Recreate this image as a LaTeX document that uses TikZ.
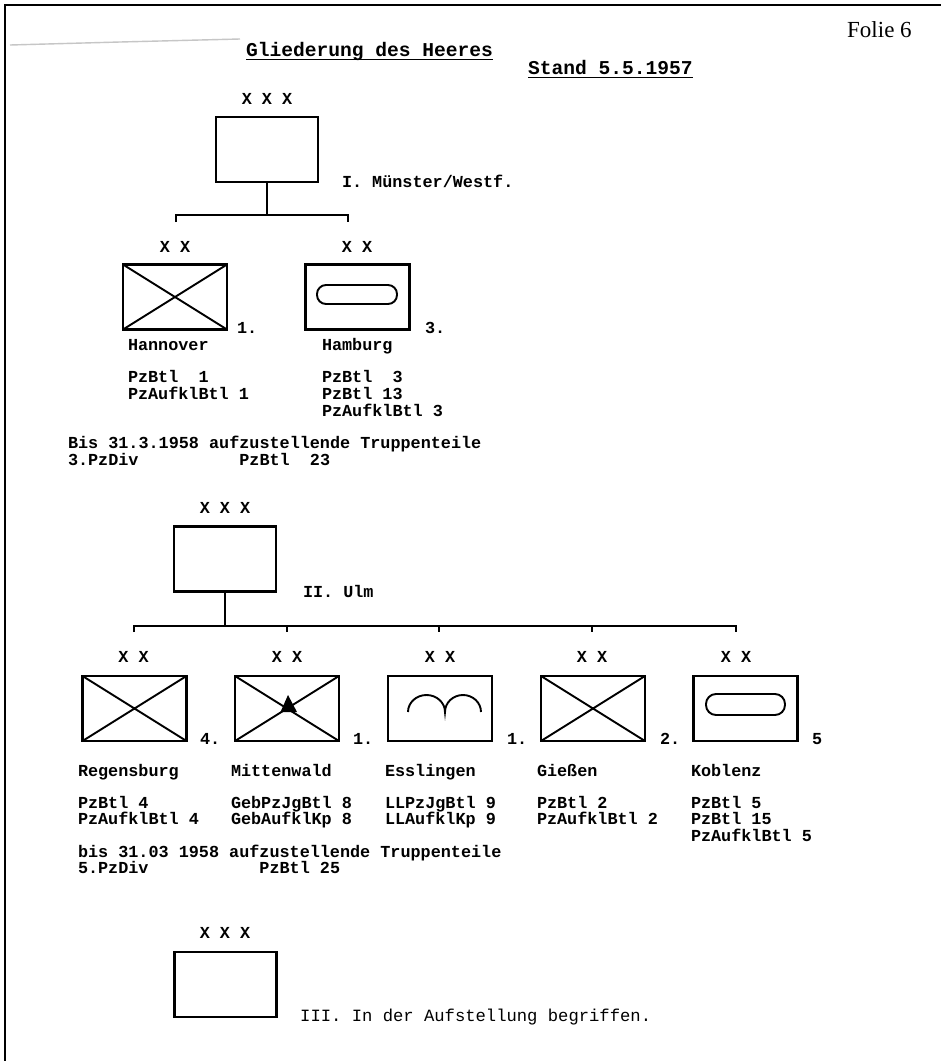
\documentclass[tikz,border=0pt]{standalone}
\usepackage{fontspec}
\setmainfont{Liberation Serif}
\newfontfamily\typew{Liberation Mono}
\begin{document}
\begin{tikzpicture}[x=1pt,y=-1pt,
  mono/.style={font=\typew\bfseries\fontsize{16.8}{17}\selectfont, inner sep=0pt, outer sep=0pt},
  lbl/.style={mono, anchor=base west},
  rank/.style={mono, anchor=base},
  headfont/.style={font=\typew\bfseries\fontsize{19.6}{20}\selectfont},
  unitbox/.style={draw, line width=2.2pt, minimum width=104pt, minimum height=65pt, inner sep=0pt, outer sep=0pt},
  corpsbox/.style={unitbox, minimum width=102pt},
  conn/.style={line width=2pt},
  sym/.style={line width=1.9pt},
  uline/.style={line width=1.5pt}]

\useasboundingbox (0,0) rectangle (941,1061);
\fill[white] (0,0) rectangle (941,1061);

% frame and scan trace
\draw[line width=1.5pt] (5,1061) -- (5,5) -- (941,5);
\draw[gray!45, line width=1.4pt] (10,45) -- (120,42) -- (240,39);

\node[anchor=base west, inner sep=0pt, font=\fontsize{23}{25}\selectfont] (folie) at (847,37) {Folie 6};

% titles
\node[lbl, headfont] (title) at (246,56) {Gliederung des Heeres};
\draw[uline] ([yshift=-3.5pt]title.base west) -- ([yshift=-3.5pt]title.base east);
\node[lbl, headfont] (stand) at (528,74) {Stand 5.5.1957};
\draw[uline] ([yshift=-3.5pt]stand.base west) -- ([yshift=-3.5pt]stand.base east);

% ---------------- Corps I
\node[rank] (xxx1) at (267,104) {X X X};
\node[corpsbox] (c1) at (267,149.5) {};
\node[lbl] (c1name) at (342,187) {I. Münster/Westf.};
\coordinate (b1L) at (176,215);
\coordinate (b1R) at (348,215);
\draw[conn] (c1.south) -- (c1.south |- b1L);
\draw[conn] ([yshift=-7pt]b1L) -- (b1L) -- (b1R) -- ([yshift=-7pt]b1R);

% 1. PzDiv Hannover
\node[rank] (xxd1) at (175,252) {X X};
\node[unitbox] (d1) at (175,297) {};
\draw[sym] (d1.north west) -- (d1.south east) (d1.north east) -- (d1.south west);
\node[lbl] (d1num) at (237,333) {1.};
\node[lbl] (d1city) at (128,350) {Hannover};
\node[lbl] (d1u1) at (128,382) {PzBtl\ \ 1};
\node[lbl] (d1u2) at (128,399) {PzAufklBtl 1};

% 3. PzDiv Hamburg
\node[rank] (xxd3) at (357,252) {X X};
\node[unitbox] (d3) at (357.5,297) {};
\draw[sym, rounded corners=9pt] (317,285) rectangle (397,304);
\node[lbl] (d3num) at (425,333) {3.};
\node[lbl] (d3city) at (322,350) {Hamburg};
\node[lbl] (d3u1) at (322,382) {PzBtl\ \ 3};
\node[lbl] (d3u2) at (322,399) {PzBtl 13};
\node[lbl] (d3u3) at (322,416) {PzAufklBtl 3};

\node[lbl] (todo1a) at (68,448) {Bis 31.3.1958 aufzustellende Truppenteile};
\node[lbl] (todo1b) at (68,465) {3.PzDiv\ \ \ \ \ \ \ \ \ \ PzBtl\ \ 23};

% ---------------- Corps II
\node[rank] (xxx2) at (225,513) {X X X};
\node[corpsbox] (c2) at (225,559) {};
\node[lbl] (c2name) at (303,597) {II. Ulm};
\coordinate (b2a) at (134,626);
\coordinate (b2b) at (287,626);
\coordinate (b2c) at (439,626);
\coordinate (b2d) at (592,626);
\coordinate (b2e) at (736,626);
\draw[conn] (c2.south) -- (c2.south |- b2a);
\draw[conn] ([yshift=-6pt]b2a) -- (b2a) -- (b2e) -- ([yshift=-6pt]b2e);
\draw[conn] (b2b) -- ([yshift=-6pt]b2b);
\draw[conn] (b2c) -- ([yshift=-6pt]b2c);
\draw[conn] (b2d) -- ([yshift=-6pt]b2d);

% Regensburg
\node[rank] (xxr) at (133.5,662) {X X};
\node[unitbox] (dr) at (134.5,708.5) {};
\draw[sym] (dr.north west) -- (dr.south east) (dr.north east) -- (dr.south west);
\node[lbl] (drnum) at (200,744) {4.};
\node[lbl] (drcity) at (78,776) {Regensburg};
\node[lbl] (dru1) at (78,808) {PzBtl 4};
\node[lbl] (dru2) at (78,824) {PzAufklBtl 4};

% Mittenwald
\node[rank] (xxm) at (287,662) {X X};
\node[unitbox] (dm) at (287,708.5) {};
\draw[sym] (dm.north west) -- (dm.south east) (dm.north east) -- (dm.south west);
\fill (288,695) -- (280.5,712) -- (297,712) -- cycle;
\node[lbl] (dmnum) at (353,744) {1.};
\node[lbl] (dmcity) at (231,776) {Mittenwald};
\node[lbl] (dmu1) at (231,808) {GebPzJgBtl 8};
\node[lbl] (dmu2) at (231,824) {GebAufklKp 8};

% Esslingen
\node[rank] (xxe) at (440,662) {X X};
\node[unitbox] (de) at (440,708.5) {};
\draw[sym] (408,712) arc[start angle=180, end angle=360, x radius=18.5, y radius=17]
                     arc[start angle=180, end angle=360, x radius=18, y radius=17];
\node[lbl] (denum) at (507,744) {1.};
\node[lbl] (decity) at (385,776) {Esslingen};
\node[lbl] (deu1) at (385,808) {LLPzJgBtl 9};
\node[lbl] (deu2) at (385,824) {LLAufklKp 9};

% Giessen
\node[rank] (xxg) at (592,662) {X X};
\node[unitbox] (dg) at (593,708.5) {};
\draw[sym] (dg.north west) -- (dg.south east) (dg.north east) -- (dg.south west);
\node[lbl] (dgnum) at (660,744) {2.};
\node[lbl] (dgcity) at (537,776) {Gießen};
\node[lbl] (dgu1) at (537,808) {PzBtl 2};
\node[lbl] (dgu2) at (537,824) {PzAufklBtl 2};

% Koblenz
\node[rank] (xxk) at (736,662) {X X};
\node[unitbox] (dk) at (745.5,708.5) {};
\draw[sym, rounded corners=10pt] (706,694) rectangle (785,715);
\node[lbl] (dknum) at (812,744) {5};
\node[lbl] (dkcity) at (691,776) {Koblenz};
\node[lbl] (dku1) at (691,808) {PzBtl 5};
\node[lbl] (dku2) at (691,824) {PzBtl 15};
\node[lbl] (dku3) at (691,841) {PzAufklBtl 5};

\node[lbl] (todo2a) at (78,857) {bis 31.03 1958 aufzustellende Truppenteile};
\node[lbl] (todo2b) at (78,873) {5.PzDiv\ \ \ \ \ \ \ \ \ \ \ PzBtl 25};

% ---------------- Corps III
\node[rank] (xxx3) at (225,938) {X X X};
\node[corpsbox] (c3) at (225.5,984.5) {};
\node[anchor=base west, inner sep=0pt, font=\typew\fontsize{17.2}{17}\selectfont] (c3name) at (300,1021) {III. In der Aufstellung begriffen.};

\end{tikzpicture}
\end{document}
